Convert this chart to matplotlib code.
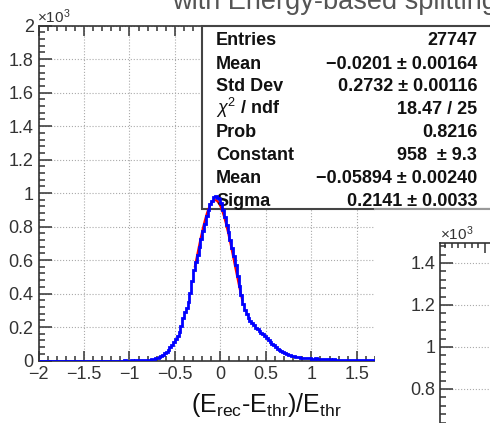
import numpy as np
import matplotlib
matplotlib.use('Agg')
import matplotlib.pyplot as plt
from matplotlib.patches import Rectangle
from matplotlib.lines import Line2D
from matplotlib.ticker import MultipleLocator, FixedLocator, FuncFormatter

plt.rcParams['font.family'] = ['Liberation Sans', 'DejaVu Sans']
plt.rcParams['mathtext.fontset'] = 'custom'
plt.rcParams['mathtext.rm'] = 'Liberation Sans'
plt.rcParams['mathtext.it'] = 'Liberation Sans:italic'

# histogram: 200 bins of width 0.02 from -2 to 2 (counts)
bin_lo = -2.0
bin_width = 0.02
counts = [
    0, 0, 0, 0, 0, 0, 0, 0, 0, 0,             # -2.0 .. -1.8
    0, 0, 0, 0, 0, 0, 0, 0, 0, 0,             # -1.8 .. -1.6
    0, 0, 0, 0, 0, 0, 0, 0, 0, 0,             # -1.6 .. -1.4
    0, 0, 0, 0, 0, 0, 0, 0, 0, 0,             # -1.4 .. -1.2
    0, 0, 0, 0, 0, 0, 0, 1, 0, 0,             # -1.2 .. -1.0
    0, 1, 0, 1, 1, 2, 1, 2, 3, 2,             # -1.0 .. -0.8
    3, 5, 7, 9, 12, 15, 20, 28, 35, 42,       # -0.8 .. -0.6
    50, 62, 78, 95, 112, 130, 148, 172, 208, 252,      # -0.6 .. -0.4
    288, 315, 352, 405, 475, 540, 590, 632, 680, 725,  # -0.4 .. -0.2
    772, 818, 862, 900, 932, 955, 975, 985, 972, 965,  # -0.2 .. 0.0
    940, 900, 855, 812, 765, 722, 672, 625, 572, 505,  # 0.0 .. 0.2
    448, 392, 340, 300, 275, 255, 238, 222, 210, 196,  # 0.2 .. 0.4
    186, 176, 166, 156, 145, 132, 122, 112, 100, 90,   # 0.4 .. 0.6
    80, 70, 62, 55, 48, 42, 38, 34, 30, 27,            # 0.6 .. 0.8
    25, 22, 20, 18, 17, 15, 14, 13, 14, 12,            # 0.8 .. 1.0
    11, 10, 12, 9, 8, 9, 7, 8, 6, 7,                   # 1.0 .. 1.2
    6, 5, 6, 4, 5, 4, 5, 3, 4, 3,                      # 1.2 .. 1.4
    3, 4, 2, 3, 3, 2, 3, 2, 2, 3,                      # 1.4 .. 1.6
    2, 1, 2, 2, 1, 2, 1, 1, 2, 1,                      # 1.6 .. 1.8
    1, 1, 0, 1, 1, 0, 1, 0, 1, 0,                      # 1.8 .. 2.0
]

# gaussian fit shown in the stats box
fit_const = 958
fit_mean = -0.05894
fit_sigma = 0.2141
fit_range = (-0.28, 0.24)

stat_labels = ['Entries', 'Mean', 'Std Dev', '$\\chi^{2}$ / ndf', 'Prob',
               'Constant', 'Mean', 'Sigma']
stat_values = ['27747', '\u22120.0201 \u00b1 0.00164', '0.2732 \u00b1 0.00116',
               '18.47 / 25', '0.8216', '958  \u00b1 9.3',
               '\u22120.05894 \u00b1 0.00240', '0.2141 \u00b1 0.0033']

W, H = 490, 423
def fx(px):
    return px / W
def fy(py):
    return 1 - py / H

fig = plt.figure(figsize=(4.9, 4.23), dpi=100)
fig.patch.set_facecolor('white')

ink = '#333333'
ax = fig.add_axes([fx(38.5), fy(360.5), fx(375) - fx(38.5), fy(25.7) - fy(360.5)])
edges = bin_lo + bin_width * np.arange(len(counts) + 1)
ax.stairs(counts, edges, color='#0000ff', lw=2.0, zorder=5)
xf = np.linspace(fit_range[0], fit_range[1], 200)
yf = fit_const * np.exp(-0.5 * ((xf - fit_mean) / fit_sigma) ** 2)
ax.plot(xf, yf, color='#ff0000', lw=1.6, zorder=4)

ax.set_xlim(-2, 1.70)
ax.set_ylim(0, 2000)
ax.xaxis.set_major_locator(MultipleLocator(0.5))
ax.xaxis.set_minor_locator(MultipleLocator(0.1))
ax.yaxis.set_major_locator(MultipleLocator(200))
ax.yaxis.set_minor_locator(MultipleLocator(40))
ax.xaxis.set_major_formatter(FuncFormatter(lambda v, p: f'{v:g}'.replace('-', '\u2212')))
ax.yaxis.set_major_formatter(FuncFormatter(lambda v, p: f'{v / 1000:g}'))
ax.tick_params(which='both', direction='in', top=True, right=False,
               labelsize=13, color=ink, labelcolor=ink, width=1.1)
ax.tick_params(axis='x', which='major', length=7, pad=4)
ax.tick_params(axis='x', which='minor', length=3.5)
ax.tick_params(axis='y', which='major', length=9, pad=3.5)
ax.tick_params(axis='y', which='minor', length=4)
ax.spines['right'].set_visible(False)
for s in ['left', 'bottom', 'top']:
    ax.spines[s].set_color(ink)
    ax.spines[s].set_linewidth(1.2)
ax.grid(True, which='major', ls=':', color='#aaaaaa', lw=0.8)

# stats box
box = Rectangle((fx(202), fy(209)), fx(500) - fx(202), fy(26) - fy(209),
                transform=fig.transFigure, fc='white', ec='#444444', lw=1.5,
                zorder=3, clip_on=False)
ax.add_artist(box)
row_y = [45, 69, 91, 114, 137, 160, 183, 206]
for lab, val, py in zip(stat_labels, stat_values, row_y):
    ax.text(fx(216), fy(py), lab, transform=fig.transFigure, fontsize=13,
            fontweight='bold', color='#111111', va='baseline', ha='left',
            zorder=4, clip_on=False)
    ax.text(fx(477), fy(py), val, transform=fig.transFigure, fontsize=13,
            fontweight='bold', color='#111111', va='baseline', ha='right',
            zorder=4, clip_on=False)

fig.text(fx(37), fy(23), '\u00d710$^{3}$', fontsize=11, color=ink, va='baseline')
fig.text(fx(266), fy(412), '(E$_{\\mathrm{rec}}$-E$_{\\mathrm{thr}}$)/E$_{\\mathrm{thr}}$',
         fontsize=18, color='#111111', ha='center', va='baseline')
fig.text(fx(172), fy(9), 'with Energy-based splitting', fontsize=19.5,
         color='#555555', va='baseline')

# second plot overlapping the lower right corner
fig.add_artist(Rectangle((fx(375), 0), 1 - fx(375), fy(209.5), transform=fig.transFigure,
                         fc='white', ec='none', zorder=1))
fig.add_artist(Line2D([fx(375), 1], [fy(209.5), fy(209.5)], transform=fig.transFigure,
                      color='#999999', lw=1.5, zorder=1.1))

ax2 = fig.add_axes([fx(440), fy(423), fx(540) - fx(440), fy(243) - fy(423)])
ax2.set_zorder(2)
ax2.set_xlim(-0.675, 0.825)
ax2.set_ylim(638, 1495)
ax2.xaxis.set_major_locator(FixedLocator([0]))
ax2.xaxis.set_minor_locator(MultipleLocator(0.1))
ax2.yaxis.set_major_locator(MultipleLocator(200))
ax2.yaxis.set_minor_locator(MultipleLocator(40))
ax2.yaxis.set_major_formatter(FuncFormatter(lambda v, p: f'{v / 1000:g}'))
ax2.tick_params(which='both', direction='in', top=True, bottom=False, right=False,
                labelbottom=False, labelsize=13, color=ink, labelcolor=ink, width=1.1)
ax2.tick_params(axis='x', which='major', length=7)
ax2.tick_params(axis='x', which='minor', length=3.5)
ax2.tick_params(axis='y', which='major', length=9, pad=3.5)
ax2.tick_params(axis='y', which='minor', length=4)
ax2.spines['right'].set_visible(False)
ax2.spines['bottom'].set_visible(False)
for s in ['left', 'top']:
    ax2.spines[s].set_color(ink)
    ax2.spines[s].set_linewidth(1.2)
ax2.grid(True, which='major', axis='y', ls=':', color='#aaaaaa', lw=0.8)
fig.text(fx(440), fy(240), '\u00d710$^{3}$', fontsize=11, color=ink, va='baseline')

fig.savefig('out.png', dpi=100)
